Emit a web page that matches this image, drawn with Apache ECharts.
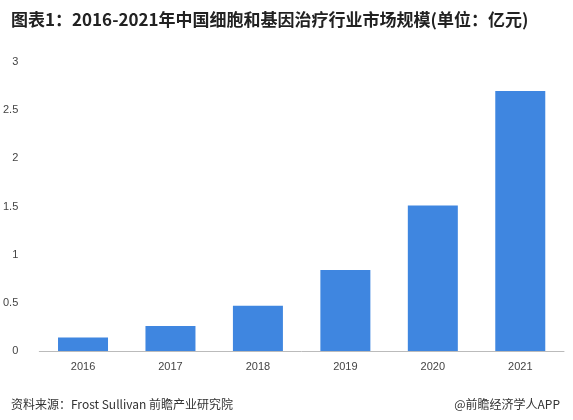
<!DOCTYPE html>
<html>
<head>
<meta charset="utf-8">
<script src="https://cdn.jsdelivr.net/npm/echarts@6/dist/echarts.min.js"></script>
<style>html,body{margin:0;padding:0;background:#fff}#c{width:573px;height:420px}</style>
</head>
<body>
<div id="c"></div>
<script>
var years = ['2016', '2017', '2018', '2019', '2020', '2021'];
var values = [0.14, 0.26, 0.47, 0.84, 1.51, 2.70];
var yTicks = [0, 0.5, 1, 1.5, 2, 2.5, 3];

var chart = echarts.init(document.getElementById('c'));
chart.setOption({
    animation: false,
    title: [{
        text: '图表1：2016-2021年中国细胞和基因治疗行业市场规模(单位：亿元)',
        left: 6, top: 6,
        textStyle: { fontSize: 17, fontWeight: 'bold', color: '#222', fontFamily: 'Noto Sans CJK SC' }
    }, {
        text: '资料来源：Frost Sullivan 前瞻产业研究院',
        left: 6, top: 393,
        textStyle: { fontSize: 12, fontWeight: 'normal', color: '#333', fontFamily: 'Noto Sans CJK SC' }
    }, {
        text: '@前瞻经济学人APP',
        right: 8, top: 393,
        textStyle: { fontSize: 12, fontWeight: 'normal', color: '#333', fontFamily: 'Noto Sans CJK SC' }
    }],
    grid: { left: 37, right: 9, top: 62, bottom: 69 },
    xAxis: {
        type: 'category',
        data: years,
        axisLine: { lineStyle: { color: '#bbb' } },
        axisTick: { show: false },
        axisLabel: { color: '#444', fontSize: 11, margin: 10 }
    },
    yAxis: {
        type: 'value',
        min: 0, max: 3, interval: 0.5,
        axisLine: { show: false },
        axisTick: { show: false },
        splitLine: { show: false },
        axisLabel: { color: '#444', fontSize: 11, margin: 21,
            formatter: function (v) { return yTicks.indexOf(v) >= 0 ? String(v) : ''; } }
    },
    series: [{
        type: 'bar',
        data: values,
        barWidth: 50,
        itemStyle: { color: '#3f86e0' }
    }]
});
</script>
</body>
</html>
